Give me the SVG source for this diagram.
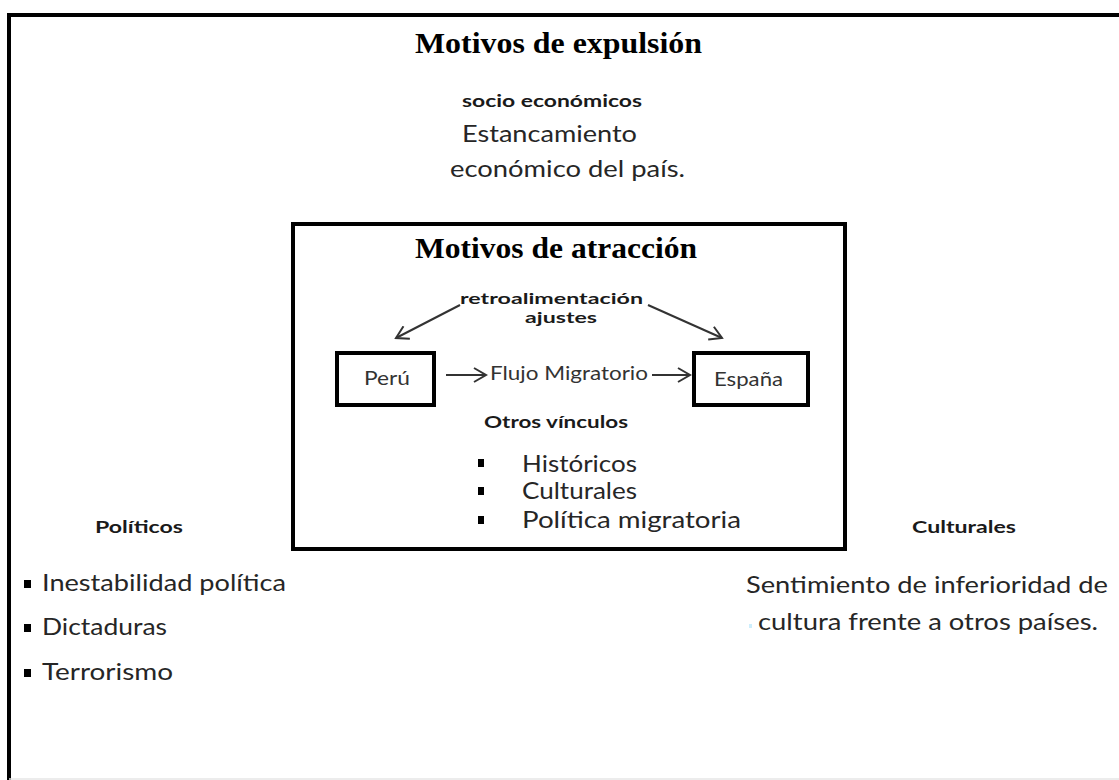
<svg xmlns="http://www.w3.org/2000/svg" width="1119" height="780" viewBox="0 0 1119 780">
  <style>
    .title { font-family: "Liberation Serif", "Times New Roman", serif; font-weight: bold; font-size: 30px; fill: #000; }
    .lbl { font-family: Lato, "Open Sans", sans-serif; font-weight: bold; font-size: 17px; fill: #1a1a1a; }
    .lbl2 { font-family: Lato, "Open Sans", sans-serif; font-weight: bold; font-size: 15px; fill: #1a1a1a; }
    .body { font-family: Lato, "Open Sans", sans-serif; font-size: 23px; fill: #262626; }
    .small { font-family: Lato, "Open Sans", sans-serif; font-size: 19px; fill: #333; }
    .box { fill: #fff; stroke: #000; stroke-width: 4; }
    .frame { fill: none; stroke: #000; stroke-width: 4; }
    .conn { fill: none; stroke: #333; stroke-width: 2; }
    .bul { fill: #000; }
  </style>
  <defs>
    <marker id="arr" markerUnits="userSpaceOnUse" markerWidth="16" markerHeight="16" refX="14" refY="8" orient="auto">
      <path d="M2,1 L14,8 L2,15" fill="none" stroke="#333" stroke-width="2"/>
    </marker>
  </defs>
  <rect width="1119" height="780" fill="#fff"/>
  <g id="frame">
    <path class="frame" d="M9,780 V15 H1119"/>
    <line x1="9" y1="779" x2="1119" y2="779" stroke="#e6e6e6" stroke-width="1.5"/>
  </g>
  <g id="expulsion">
    <text class="title" x="415" y="53" textLength="287" lengthAdjust="spacingAndGlyphs">Motivos de expulsión</text>
  </g>
  <g id="socioeconomicos">
    <text class="lbl" x="462" y="107" textLength="180" lengthAdjust="spacingAndGlyphs">socio económicos</text>
    <text class="body" x="462" y="142" textLength="175" lengthAdjust="spacingAndGlyphs">Estancamiento</text>
    <text class="body" x="450" y="177" textLength="235" lengthAdjust="spacingAndGlyphs">económico del país.</text>
  </g>
  <g id="atraccion">
    <rect class="box" x="293" y="224" width="552" height="325"/>
    <text class="title" x="415" y="258" textLength="282" lengthAdjust="spacingAndGlyphs">Motivos de atracción</text>
    <text class="lbl2" x="460" y="304" textLength="183" lengthAdjust="spacingAndGlyphs">retroalimentación</text>
    <text class="lbl2" x="525" y="323" textLength="72" lengthAdjust="spacingAndGlyphs">ajustes</text>
    <text class="lbl" x="484" y="428" textLength="144" lengthAdjust="spacingAndGlyphs">Otros vínculos</text>
    <rect class="bul" x="478" y="459" width="6" height="8"/>
    <text class="body" x="522" y="472" textLength="115" lengthAdjust="spacingAndGlyphs">Históricos</text>
    <rect class="bul" x="478" y="487" width="6" height="8"/>
    <text class="body" x="522" y="499" textLength="115" lengthAdjust="spacingAndGlyphs">Culturales</text>
    <rect class="bul" x="478" y="516" width="6" height="8"/>
    <text class="body" x="522" y="528" textLength="219" lengthAdjust="spacingAndGlyphs">Política migratoria</text>
  </g>
  <g id="peru">
    <rect class="box" x="337" y="353" width="97" height="52"/>
    <text class="small" x="364" y="385" textLength="46" lengthAdjust="spacingAndGlyphs">Perú</text>
  </g>
  <g id="flujo">
    <text class="small" x="490" y="380" textLength="158" lengthAdjust="spacingAndGlyphs">Flujo Migratorio</text>
  </g>
  <g id="espana">
    <rect class="box" x="694" y="353" width="114" height="52"/>
    <text class="small" x="714" y="386" textLength="69" lengthAdjust="spacingAndGlyphs">España</text>
  </g>
  <g id="connectors">
    <line class="conn" x1="460" y1="305" x2="396" y2="338" marker-end="url(#arr)"/>
    <line class="conn" x1="648" y1="305" x2="722" y2="338" marker-end="url(#arr)"/>
    <line class="conn" x1="446" y1="375" x2="486" y2="375" marker-end="url(#arr)"/>
    <line class="conn" x1="652" y1="375" x2="690" y2="375" marker-end="url(#arr)"/>
  </g>
  <g id="politicos">
    <text class="lbl" x="95" y="533" textLength="88" lengthAdjust="spacingAndGlyphs">Políticos</text>
    <rect class="bul" x="24" y="580" width="7" height="8"/>
    <text class="body" x="42" y="591" textLength="244" lengthAdjust="spacingAndGlyphs">Inestabilidad política</text>
    <rect class="bul" x="24" y="624" width="7" height="8"/>
    <text class="body" x="42" y="635" textLength="125" lengthAdjust="spacingAndGlyphs">Dictaduras</text>
    <rect class="bul" x="24" y="669" width="7" height="8"/>
    <text class="body" x="42" y="680" textLength="131" lengthAdjust="spacingAndGlyphs">Terrorismo</text>
  </g>
  <g id="culturales">
    <text class="lbl" x="912" y="533" textLength="104" lengthAdjust="spacingAndGlyphs">Culturales</text>
    <text class="body" x="746" y="593" textLength="362" lengthAdjust="spacingAndGlyphs">Sentimiento de inferioridad de</text>
    <rect x="749" y="624" width="3" height="4" fill="#cdeefc"/>
    <text class="body" x="758" y="630" textLength="340" lengthAdjust="spacingAndGlyphs">cultura frente a otros países.</text>
  </g>
</svg>
